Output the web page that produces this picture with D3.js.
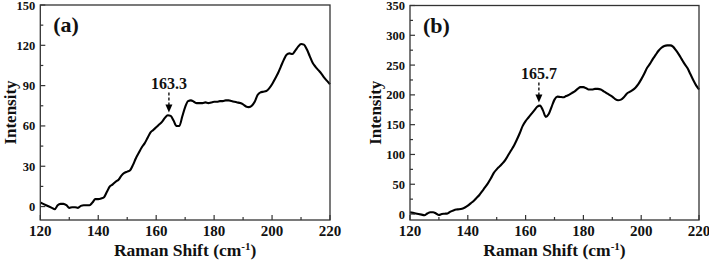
<!DOCTYPE html>
<html>
<head>
<meta charset="utf-8">
<script src="https://cdn.jsdelivr.net/npm/d3@7"></script>
<style>
  html, body { margin: 0; padding: 0; background: #fff; }
  svg { display: block; }
</style>
</head>
<body>
<svg id="chart" width="709" height="261" font-family="'Liberation Serif', 'Times New Roman', 'DejaVu Serif', serif" font-weight="bold"></svg>
<script>
// ---------- data ----------
const ramanShift = [120,122,124,125,126,127,128,129,130,131,132,133,134,135,136,137,138,139,140,141,142,143,144,145,146,147,148,149,150,151,152,153,154,155,156,157,158,159,160,161,162,163,164,165,166,167,168,169,170,171,172,173,174,175,176,177,178,179,180,181,182,183,184,185,186,187,188,189,190,191,192,193,194,195,196,197,198,199,200,201,202,203,204,205,206,207,208,209,210,211,212,213,214,215,216,217,218,219,220];

const intensityA = [3,1,-1,-2,1,2,2,1,-1,-0.5,-0.5,-1,0.5,1,1,1,3,5.5,5.5,6,7,11,15,16.5,18.5,20,23,25,26,27,31,36,40,44,47,51,55,57,59,61,63,66,68,67.5,64,60,60,67,74,78.5,79,78,77,77,77,77.5,77,77.5,78,78,78.5,78.5,79,79,78.5,78,77.5,77,76,74.5,74,75,78,83,85,85.5,86,88,91,95,99,104,109,113,114,113.5,116,119,121,120.5,117,112,107,104,101.5,99,96,93.5,91];

const intensityB = [3,1,-1,-2,1,3,3,1,-1.5,0,0.5,1,4,6,7.5,8,9,11,14,18,22,27,32,38.5,45,52,60,69,75,80,85,91,99,107,115,125,136,148,156,162,168,174,180,182,174,163,168,180,192,197,196.5,196,198,200,203,206,210,213,213,211,209,209,210,210,209,206,203,200,197,193,191,192,196,202,205,208,212,218,226,235,245,252,260,267,274,279,282,283,283,281,275,268,260,252,245,235,225,216,209];

const xTicks = [120,140,160,180,200,220];
const xMinor = [130,150,170,190,210];
const yTicksA = [0,30,60,90,120,150];
const yMinorA = [15,45,75,105,135];
const yTicksB = [0,50,100,150,200,250,300,350];
const yMinorB = [25,75,125,175,225,275,325];

const panelLabels = ["(a)", "(b)"];
const peakLabels = ["163.3", "165.7"];
const peakArrowX = [164.4, 164.6];   // data x of arrow
const peakArrowTip = [70, 187];      // data y of arrow tip
const xTitle = "Raman Shift (cm";
const yTitle = "Intensity";

// ---------- drawing ----------
const svg = d3.select("#chart");

const panels = [
  {left: 40.3, right: 330, top: 5, bottom: 220, yDomain: [-10,150], values: intensityA,
   yTicks: yTicksA, yMinor: yMinorA, yTitleX: 16},
  {left: 410, right: 699, top: 5.5, bottom: 220, yDomain: [-10,350], values: intensityB,
   yTicks: yTicksB, yMinor: yMinorB, yTitleX: 381}
];

panels.forEach((p, i) => {
  const x = d3.scaleLinear().domain([120,220]).range([p.left, p.right]);
  const y = d3.scaleLinear().domain(p.yDomain).range([p.bottom, p.top]);
  const g = svg.append("g").attr("fill", "#111");

  // curve
  const line = d3.line().x(d => x(d[0])).y(d => y(d[1])).curve(d3.curveMonotoneX);
  g.append("path")
    .datum(ramanShift.map((v, k) => [v, p.values[k]]))
    .attr("d", line)
    .attr("fill", "none")
    .attr("stroke", "#000")
    .attr("stroke-width", 2.1)
    .attr("stroke-linejoin", "round");

  // frame
  g.append("rect")
    .attr("x", p.left).attr("y", p.top)
    .attr("width", p.right - p.left).attr("height", p.bottom - p.top)
    .attr("fill", "none").attr("stroke", "#333").attr("stroke-width", 1.3);

  // x ticks (inward)
  g.selectAll(".xt").data(xTicks).join("line")
    .attr("x1", d => x(d)).attr("x2", d => x(d))
    .attr("y1", p.bottom).attr("y2", p.bottom - 5)
    .attr("stroke", "#333").attr("stroke-width", 1.2);
  g.selectAll(".xm").data(xMinor).join("line")
    .attr("x1", d => x(d)).attr("x2", d => x(d))
    .attr("y1", p.bottom).attr("y2", p.bottom - 3)
    .attr("stroke", "#333").attr("stroke-width", 1.2);
  g.selectAll(".xl").data(xTicks).join("text")
    .attr("x", d => x(d)).attr("y", p.bottom + 16)
    .attr("text-anchor", "middle").attr("font-size", 15)
    .text(d => d);

  // y ticks (inward)
  g.selectAll(".yt").data(p.yTicks).join("line")
    .attr("x1", p.left).attr("x2", p.left + 5)
    .attr("y1", d => y(d)).attr("y2", d => y(d))
    .attr("stroke", "#333").attr("stroke-width", 1.2);
  g.selectAll(".ym").data(p.yMinor).join("line")
    .attr("x1", p.left).attr("x2", p.left + 3)
    .attr("y1", d => y(d)).attr("y2", d => y(d))
    .attr("stroke", "#333").attr("stroke-width", 1.2);
  g.selectAll(".yl").data(p.yTicks).join("text")
    .attr("x", p.left - 5).attr("y", d => y(d) + 4.5)
    .attr("text-anchor", "end").attr("font-size", 12.5)
    .text(d => d);

  // axis titles
  const xt = g.append("text")
    .attr("x", (p.left + p.right) / 2).attr("y", 256)
    .attr("text-anchor", "middle").attr("font-size", 17.5);
  xt.append("tspan").text(xTitle);
  xt.append("tspan").attr("font-size", 11).attr("dy", -6).text("-1");
  xt.append("tspan").attr("dy", 6).text(")");

  g.append("text")
    .attr("transform", `translate(${p.yTitleX},${(p.top + p.bottom) / 2}) rotate(-90)`)
    .attr("text-anchor", "middle").attr("font-size", 17)
    .text(yTitle);

  // panel label
  g.append("text")
    .attr("x", p.left + 13).attr("y", p.top + 27)
    .attr("font-size", 22)
    .text(panelLabels[i]);

  // peak annotation
  const ax = x(peakArrowX[i]);
  const tipY = y(peakArrowTip[i]);
  g.append("text")
    .attr("x", ax).attr("y", tipY - 24)
    .attr("text-anchor", "middle").attr("font-size", 16)
    .text(peakLabels[i]);
  g.append("line")
    .attr("x1", ax).attr("x2", ax)
    .attr("y1", tipY - 20).attr("y2", tipY - 7)
    .attr("stroke", "#000").attr("stroke-width", 1.3)
    .attr("stroke-dasharray", "3,2");
  g.append("path")
    .attr("d", `M${ax - 3.5},${tipY - 8} L${ax + 3.5},${tipY - 8} L${ax},${tipY} Z`)
    .attr("fill", "#000");
});
</script>
</body>
</html>
